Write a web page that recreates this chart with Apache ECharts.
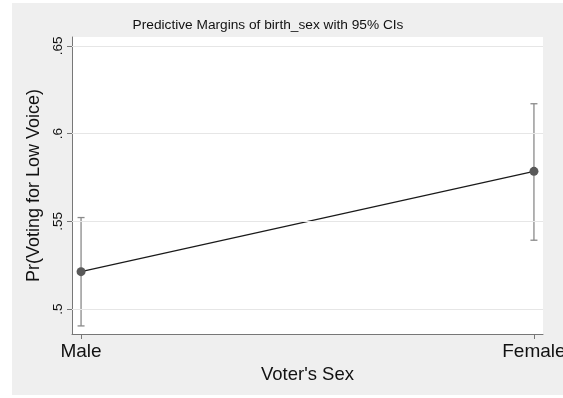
<!DOCTYPE html>
<html>
<head>
<meta charset="utf-8">
<script src="https://cdn.jsdelivr.net/npm/echarts@6/dist/echarts.min.js"></script>
<style>
html,body{margin:0;padding:0;background:#ffffff;}
#chart{width:563px;height:398px;}
</style>
</head>
<body>
<div id="chart"></div>
<script>
var categories = ['Male', 'Female'];
var margins = [0.5214, 0.5785];
var ciLow = [0.4905, 0.5393];
var ciHigh = [0.5522, 0.6170];
var yTicks = [0.5, 0.55, 0.6, 0.65];
var titleText = 'Predictive Margins of birth_sex with 95% CIs';
var yTitle = 'Pr(Voting for Low Voice)';
var xTitle = "Voter's Sex";

var xPos = categories.map(function (c, i) { return i + 1; });
var pointData = categories.map(function (c, i) { return [xPos[i], margins[i]]; });
var ciData = categories.map(function (c, i) { return [xPos[i], ciLow[i], ciHigh[i]]; });

var FONT = '"Liberation Sans", Arial, Helvetica, sans-serif';
var chart = echarts.init(document.getElementById('chart'), null, {renderer: 'canvas'});

chart.setOption({
  animation: false,
  backgroundColor: '#ffffff',
  graphic: [
    {type: 'rect', z: -10, shape: {x: 12, y: 3, width: 551, height: 392}, style: {fill: '#efefef'}, silent: true}
  ],
  title: {
    text: titleText,
    left: 263, top: 13, textAlign: 'center',
    textStyle: {fontFamily: FONT, fontSize: 13.7, fontWeight: 'normal', color: '#111'}
  },
  grid: {
    left: 72, top: 37, right: 20, bottom: 64,
    outerBoundsMode: 'none', containLabel: false,
    show: true, backgroundColor: '#ffffff', borderWidth: 0
  },
  xAxis: {
    type: 'value', min: 0.98, max: 2.02,
    name: xTitle, nameLocation: 'middle', nameGap: 30,
    nameTextStyle: {fontFamily: FONT, fontSize: 18.5, color: '#111'},
    axisLine: {show: true, onZero: false, lineStyle: {color: '#777', width: 1}},
    axisTick: {show: true, length: 5, customValues: xPos, lineStyle: {color: '#777'}},
    axisLabel: {
      customValues: xPos, margin: 8, hideOverlap: false,
      fontFamily: FONT, fontSize: 19, color: '#111',
      formatter: function (v) { var i = Math.round(v) - 1; return categories[i] || ''; }
    },
    splitLine: {show: false}
  },
  yAxis: {
    type: 'value', min: 0.4859, max: 0.655,
    name: yTitle, nameLocation: 'middle', nameRotate: 90, nameGap: 23,
    nameTextStyle: {fontFamily: FONT, fontSize: 18, color: '#111'},
    axisLine: {show: true, onZero: false, lineStyle: {color: '#777', width: 1}},
    axisTick: {show: true, length: 5, customValues: yTicks, lineStyle: {color: '#777'}},
    axisLabel: {
      customValues: yTicks, rotate: 90, margin: 7,
      fontFamily: FONT, fontSize: 13.5, color: '#111',
      formatter: function (v) { return String(+v.toFixed(2)).replace(/^0/, ''); }
    },
    splitLine: {show: false}
  },
  series: [
    {
      type: 'line', data: yTicks.map(function () { return null; }),
      silent: true, symbol: 'none',
      markLine: {
        silent: true, symbol: 'none', label: {show: false},
        lineStyle: {color: '#e6e6e6', width: 1, type: 'solid'},
        data: yTicks.map(function (t) { return {yAxis: t}; })
      },
      z: 1
    },
    {
      type: 'custom', data: ciData, z: 3,
      renderItem: function (params, api) {
        var x = api.value(0);
        var lo = api.coord([x, api.value(1)]);
        var hi = api.coord([x, api.value(2)]);
        var cap = 3.5;
        var st = {stroke: '#8a8a8a', lineWidth: 1.3};
        return {
          type: 'group',
          children: [
            {type: 'line', shape: {x1: lo[0], y1: lo[1], x2: hi[0], y2: hi[1]}, style: st},
            {type: 'line', shape: {x1: lo[0] - cap, y1: lo[1], x2: lo[0] + cap, y2: lo[1]}, style: st},
            {type: 'line', shape: {x1: hi[0] - cap, y1: hi[1], x2: hi[0] + cap, y2: hi[1]}, style: st}
          ]
        };
      }
    },
    {
      type: 'line', data: pointData, z: 4,
      symbol: 'circle', symbolSize: 9,
      lineStyle: {color: '#1a1a1a', width: 1.1},
      itemStyle: {color: '#595959', borderWidth: 0}
    }
  ]
});
</script>
</body>
</html>
